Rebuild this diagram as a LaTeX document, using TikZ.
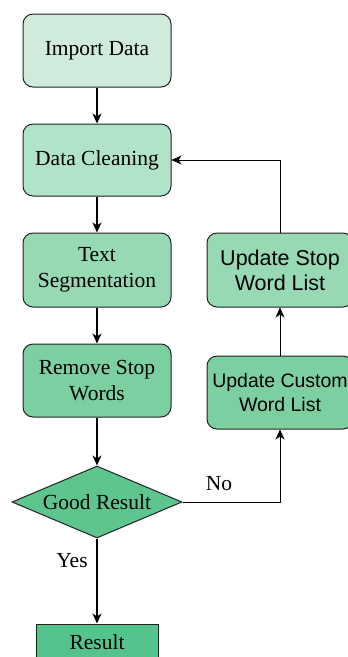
\documentclass[tikz,border=0pt]{standalone}
\usepackage{fontspec}
\setmainfont{Liberation Serif}
\newfontfamily\arialf{Liberation Sans}
\usetikzlibrary{shapes.geometric,arrows.meta}
\definecolor{c1}{HTML}{D0EBDB}
\definecolor{c2}{HTML}{B0E3C8}
\definecolor{c3}{HTML}{96D9B3}
\definecolor{c4}{HTML}{7CCFA1}
\definecolor{c5}{HTML}{5EC58F}
\definecolor{c6}{HTML}{55C48C}
\definecolor{edge}{HTML}{222222}
\begin{document}
\begin{tikzpicture}[x=1pt,y=-1pt,
  box/.style={draw=edge,line width=1pt,rounded corners=10pt,minimum width=148pt,minimum height=73pt,inner sep=0pt,align=center,font=\fontsize{21.5}{26.5}\selectfont},
  sbox/.style={box,minimum width=146pt,font=\arialf\fontsize{21.5}{25}\selectfont},
  arr/.style={-{Stealth[length=10pt,width=9pt,inset=3pt]},line width=1.4pt,black},
  tarr/.style={-{Stealth[length=10pt,width=9pt,inset=3pt]},line width=1pt,black},
  lbl/.style={font=\fontsize{21.5}{26}\selectfont,inner sep=0pt}]
\useasboundingbox (0,0) rectangle (348,657);
\clip (0,0) rectangle (348,657);
\node[box,fill=c1] (imp) at (97,50.5) {Import Data};
\node[box,fill=c2,minimum height=72pt] (cln) at (97,160) {Data Cleaning};
\node[box,fill=c3,minimum height=74pt] (seg) at (97,270) {Text\\Segmentation};
\node[box,fill=c4] (rem) at (97,380.5) {Remove Stop\\Words};
\node[sbox,fill=c3,minimum height=74pt] (stp) at (280,270) {Update Stop\\Word List};
\node[sbox,fill=c4,font=\arialf\fontsize{19.5}{23.5}\selectfont] (cus) at (280,392.5) {Update Custom\\Word List};
\node[diamond,aspect=2.36,draw=edge,line width=1pt,fill=c5,minimum width=170pt,minimum height=72pt,inner sep=0pt,font=\fontsize{21.5}{26}\selectfont] (dia) at (97,502) {Good Result};
\node[draw=edge,line width=1pt,fill=c6,minimum width=122pt,minimum height=36pt,inner sep=0pt,font=\fontsize{21.5}{26}\selectfont] (res) at (97,642) {Result};
\draw[arr] (imp) -- (cln);
\draw[arr] (cln) -- (seg);
\draw[arr] (seg) -- (rem);
\draw[arr] (rem) -- (dia);
\draw[arr] (dia) -- (res);
\draw[tarr] (dia.east) -| (cus.south);
\draw[tarr] (cus) -- (stp);
\draw[tarr] (stp.north) |- (cln.east);
\node[lbl] (no) at (219,484) {No};
\node[lbl] (yes) at (72,561) {Yes};
\end{tikzpicture}
\end{document}
